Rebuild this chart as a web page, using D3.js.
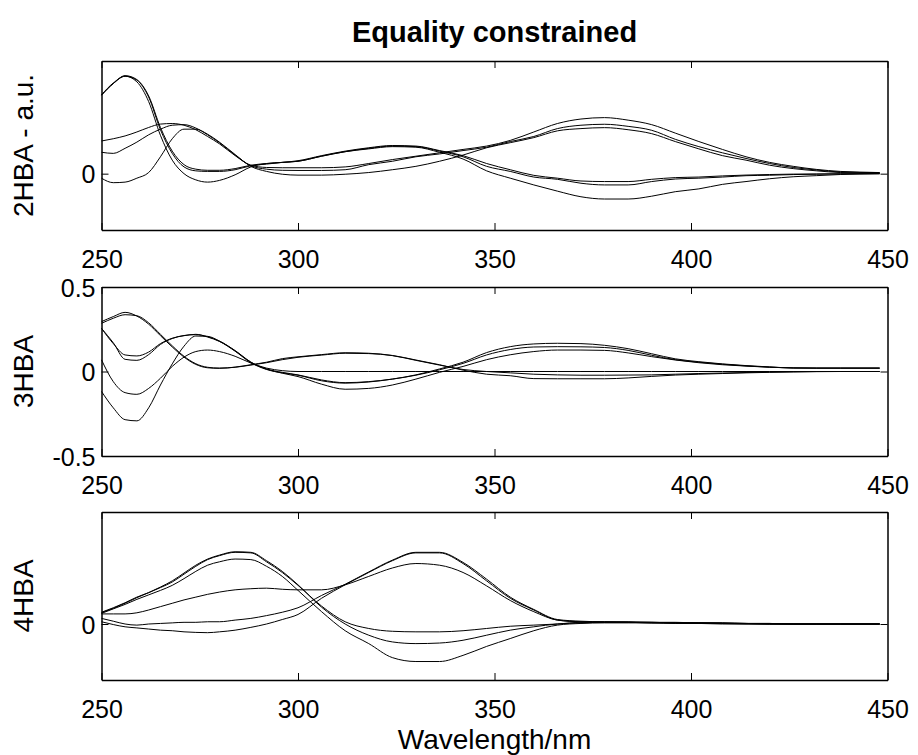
<!DOCTYPE html>
<html>
<head>
<meta charset="utf-8">
<script src="https://cdn.jsdelivr.net/npm/d3@7"></script>
<style>
  body { margin: 0; background: #fff; }
  text { font-family: "Liberation Sans", Arial, Helvetica, sans-serif; }
</style>
</head>
<body>
<svg id="chart" width="918" height="755"></svg>
<script>
// wavelength grid (nm), shared by every spectrum
const wavelengths = [250,253,256,259,262,265,268,271,274,277,280,284,288,292,296,300,
                     306,312,318,324,330,336,342,348,354,360,366,372,378,384,390,396,402,408,414,420,426,432,438,448];

const xTicks = [250, 300, 350, 400, 450];

// 2HBA spectra (a.u.)
const spectra2HBA = [
  [0.140,0.160,0.174,0.167,0.138,0.082,0.040,0.016,0.008,0.006,0.006,0.009,0.015,0.018,0.020,0.023,
   0.032,0.040,0.046,0.050,0.049,0.041,0.032,0.018,0.007,-0.003,-0.008,-0.013,-0.014,-0.014,-0.010,-0.007,-0.006,-0.004,-0.0025,-0.0015,-0.0008,-0.0005,-0.0002,0],
  [0.139,0.160,0.173,0.166,0.136,0.078,0.036,0.012,0.005,0.004,0.004,0.007,0.014,0.017,0.020,0.022,
   0.031,0.039,0.045,0.049,0.048,0.040,0.030,0.013,0.004,-0.006,-0.010,-0.017,-0.020,-0.020,-0.014,-0.0095,-0.008,-0.006,-0.0036,-0.0028,-0.0016,-0.001,-0.0004,0],
  [0.140,0.161,0.173,0.163,0.128,0.068,0.024,0.000,-0.011,-0.015,-0.012,-0.002,0.012,0.018,0.020,0.022,
   0.031,0.039,0.044,0.048,0.047,0.038,0.026,0.005,-0.008,-0.020,-0.031,-0.041,-0.045,-0.045,-0.040,-0.032,-0.027,-0.019,-0.014,-0.009,-0.0055,-0.0035,-0.0015,0],
  [0.058,0.062,0.067,0.074,0.082,0.088,0.089,0.086,0.078,0.066,0.053,0.032,0.015,0.011,0.0105,0.0105,
   0.0105,0.012,0.018,0.025,0.031,0.037,0.043,0.049,0.059,0.074,0.089,0.097,0.0995,0.095,0.087,0.072,0.057,0.043,0.030,0.020,0.013,0.0075,0.004,0.002],
  [0.038,0.036,0.045,0.056,0.069,0.079,0.086,0.087,0.081,0.069,0.055,0.033,0.014,0.008,0.006,0.0057,
   0.0057,0.007,0.016,0.022,0.030,0.035,0.041,0.047,0.057,0.066,0.080,0.086,0.0877,0.084,0.077,0.061,0.048,0.037,0.027,0.018,0.011,0.0065,0.003,0.002],
  [-0.008,-0.016,-0.015,-0.008,0.002,0.030,0.062,0.079,0.079,0.070,0.056,0.034,0.013,0.004,-0.001,-0.0026,
   -0.0026,-0.001,0.002,0.007,0.013,0.022,0.033,0.046,0.055,0.064,0.076,0.080,0.0817,0.078,0.071,0.057,0.044,0.032,0.024,0.015,0.009,0.005,0.002,0.001]
];

// 3HBA spectra
const spectra3HBA = [
  [0.295,0.325,0.350,0.328,0.280,0.212,0.145,0.085,0.042,0.022,0.019,0.026,0.040,0.055,0.076,0.087,
   0.100,0.111,0.108,0.095,0.068,0.040,0.008,-0.016,-0.025,-0.042,-0.043,-0.043,-0.043,-0.038,-0.029,-0.021,-0.016,-0.012,-0.008,-0.005,-0.003,-0.001,0,0],
  [0.285,0.315,0.336,0.330,0.288,0.220,0.152,0.090,0.046,0.025,0.020,0.025,0.038,0.052,0.070,0.084,
   0.097,0.108,0.106,0.094,0.066,0.038,0.012,0.000,-0.008,-0.016,-0.020,-0.022,-0.022,-0.021,-0.020,-0.016,-0.012,-0.009,-0.006,-0.003,-0.001,0,0,0],
  [0.255,0.165,0.098,0.092,0.115,0.165,0.197,0.212,0.220,0.204,0.178,0.120,0.052,0.012,-0.008,-0.022,
   -0.055,-0.069,-0.062,-0.045,-0.020,0.015,0.055,0.112,0.147,0.163,0.167,0.165,0.155,0.135,0.105,0.075,0.058,0.045,0.035,0.027,0.021,0.020,0.020,0.020],
  [0.255,0.170,0.072,0.066,0.100,0.160,0.195,0.213,0.218,0.206,0.180,0.124,0.056,0.015,-0.005,-0.020,
   -0.050,-0.066,-0.060,-0.045,-0.022,0.010,0.048,0.098,0.130,0.145,0.147,0.146,0.142,0.125,0.096,0.070,0.055,0.043,0.033,0.026,0.021,0.020,0.020,0.020],
  [-0.118,-0.215,-0.285,-0.292,-0.215,-0.080,0.045,0.150,0.210,0.208,0.180,0.122,0.055,0.014,-0.010,-0.030,
   -0.075,-0.105,-0.100,-0.080,-0.045,-0.005,0.030,0.070,0.099,0.118,0.127,0.127,0.125,0.110,0.088,0.068,0.052,0.040,0.032,0.025,0.021,0.020,0.020,0.020],
  [0.069,-0.060,-0.125,-0.135,-0.100,-0.040,0.030,0.085,0.118,0.127,0.118,0.090,0.050,0.020,0.005,0.000,
   0,0,0,0,0,0,0,0,0,0,0,0,0,0,0,0,0,0,0,0,0,0,0,0]
];

// 4HBA spectra
const spectra4HBA = [
  [0.021,0.029,0.038,0.048,0.056,0.065,0.075,0.089,0.103,0.115,0.122,0.128,0.127,0.111,0.092,0.069,
   0.032,0.004,-0.008,-0.013,-0.014,-0.014,-0.012,-0.008,-0.004,-0.002,0.000,0.003,0.003,0.003,0.002,0.002,0.001,0.001,0.000,0,0,0,0,0],
  [0.020,0.028,0.037,0.047,0.056,0.066,0.077,0.091,0.105,0.116,0.123,0.129,0.128,0.113,0.094,0.070,
   0.030,0.000,-0.020,-0.032,-0.035,-0.034,-0.029,-0.020,-0.011,-0.005,0.000,0.002,0.003,0.003,0.003,0.002,0.002,0.001,0.001,0,0,0,0,0],
  [0.019,0.027,0.035,0.044,0.052,0.060,0.069,0.081,0.094,0.105,0.111,0.116,0.115,0.103,0.085,0.060,
   0.022,-0.012,-0.035,-0.060,-0.067,-0.067,-0.056,-0.040,-0.026,-0.012,-0.002,0.001,0.002,0.002,0.002,0.001,0.001,0.000,0,0,0,0,0,0],
  [0.018,0.018,0.018,0.020,0.025,0.031,0.037,0.043,0.048,0.053,0.057,0.061,0.063,0.064,0.062,0.061,
   0.061,0.070,0.085,0.100,0.108,0.105,0.092,0.068,0.042,0.022,0.007,0.004,0.004,0.003,0.003,0.002,0.002,0.002,0.001,0.001,0,0,0,0],
  [0.010,0.005,0.000,-0.002,0.000,0.001,0.002,0.003,0.003,0.004,0.004,0.007,0.010,0.015,0.021,0.029,
   0.051,0.071,0.093,0.114,0.128,0.128,0.110,0.080,0.048,0.026,0.008,0.005,0.004,0.004,0.003,0.003,0.002,0.002,0.001,0.001,0,0,0,0],
  [0.004,-0.001,-0.005,-0.007,-0.009,-0.011,-0.012,-0.014,-0.015,-0.0155,-0.014,-0.011,-0.006,0.000,0.008,0.017,
   0.046,0.070,0.092,0.113,0.127,0.127,0.108,0.077,0.046,0.025,0.007,0.004,0.003,0.003,0.002,0.002,0.002,0.001,0.001,0.000,0,0,0,0]
];

const panelLabels = ["2HBA - a.u.", "3HBA", "4HBA"];
const panelYTicks = [[0], [-0.5, 0, 0.5], [0]];

// layout of the three stacked axes
const panels = [
  {label: panelLabels[0], spectra: spectra2HBA, yTicks: panelYTicks[0], domain: [-0.1, 0.2], top: 61, bottom: 230},
  {label: panelLabels[1], spectra: spectra3HBA, yTicks: panelYTicks[1], domain: [-0.5, 0.5], top: 287, bottom: 456},
  {label: panelLabels[2], spectra: spectra4HBA, yTicks: panelYTicks[2], domain: [-0.1, 0.2], top: 512, bottom: 680}
];

const left = 101.5, right = 887.5;
const tickLen = 7;
const fontSize = 25;
const labelSize = 28;

const svg = d3.select("#chart");

const x = d3.scaleLinear().domain([250, 450]).range([left, right]);

// format ticks like MATLAB: 0.5, 0, -0.5
const fmtY = d => d === 0 ? "0" : String(d);

panels.forEach(p => {
  const y = d3.scaleLinear().domain(p.domain).range([p.bottom, p.top]);
  const h = p.bottom - p.top;
  const g = svg.append("g");

  // curves
  const line = d3.line()
    .x((d, i) => x(wavelengths[i]))
    .y(d => y(d))
    .curve(d3.curveMonotoneX);

  g.append("g")
    .selectAll("path")
    .data(p.spectra)
    .enter().append("path")
    .attr("fill", "none")
    .attr("stroke", "#000")
    .attr("stroke-width", 1)
    .attr("d", line);

  // bottom axis with labels
  g.append("g")
    .attr("transform", `translate(0,${p.bottom})`)
    .call(d3.axisBottom(x).tickValues(xTicks).tickSizeInner(-tickLen).tickSizeOuter(0).tickPadding(20).tickFormat(d3.format("d")));

  // top axis, ticks only
  g.append("g")
    .attr("transform", `translate(0,${p.top})`)
    .call(d3.axisTop(x).tickValues(xTicks).tickSizeInner(-tickLen).tickSizeOuter(0).tickFormat(""));

  // left axis with labels
  const gy = g.append("g")
    .attr("transform", `translate(${left},0)`)
    .call(d3.axisLeft(y).tickValues(p.yTicks).tickSizeInner(-tickLen).tickSizeOuter(0).tickPadding(6).tickFormat(fmtY));

  // right axis, ticks only
  g.append("g")
    .attr("transform", `translate(${right},0)`)
    .call(d3.axisRight(y).tickValues(p.yTicks).tickSizeInner(-tickLen).tickSizeOuter(0).tickFormat(""));

  g.selectAll(".domain").attr("stroke", "#000").attr("stroke-width", 1.5);
  g.selectAll(".tick line").attr("stroke", "#000").attr("stroke-width", 1);
  g.selectAll(".tick text")
    .attr("fill", "#000")
    .style("font-size", fontSize + "px")
    .style("font-family", "'Liberation Sans', Arial, sans-serif");
  gy.selectAll(".tick text").attr("dy", "0.36em");

  // y label
  svg.append("text")
    .attr("transform", `translate(33,${p.top + h / 2}) rotate(-90)`)
    .attr("text-anchor", "middle")
    .style("font-size", labelSize + "px")
    .text(p.label);
});

// title
svg.append("text")
  .attr("x", (left + right) / 2)
  .attr("y", 42)
  .attr("text-anchor", "middle")
  .style("font-size", "29px")
  .style("font-weight", "bold")
  .text("Equality constrained");

// x label
svg.append("text")
  .attr("x", (left + right) / 2)
  .attr("y", 749)
  .attr("text-anchor", "middle")
  .style("font-size", labelSize + "px")
  .text("Wavelength/nm");
</script>
</body>
</html>
